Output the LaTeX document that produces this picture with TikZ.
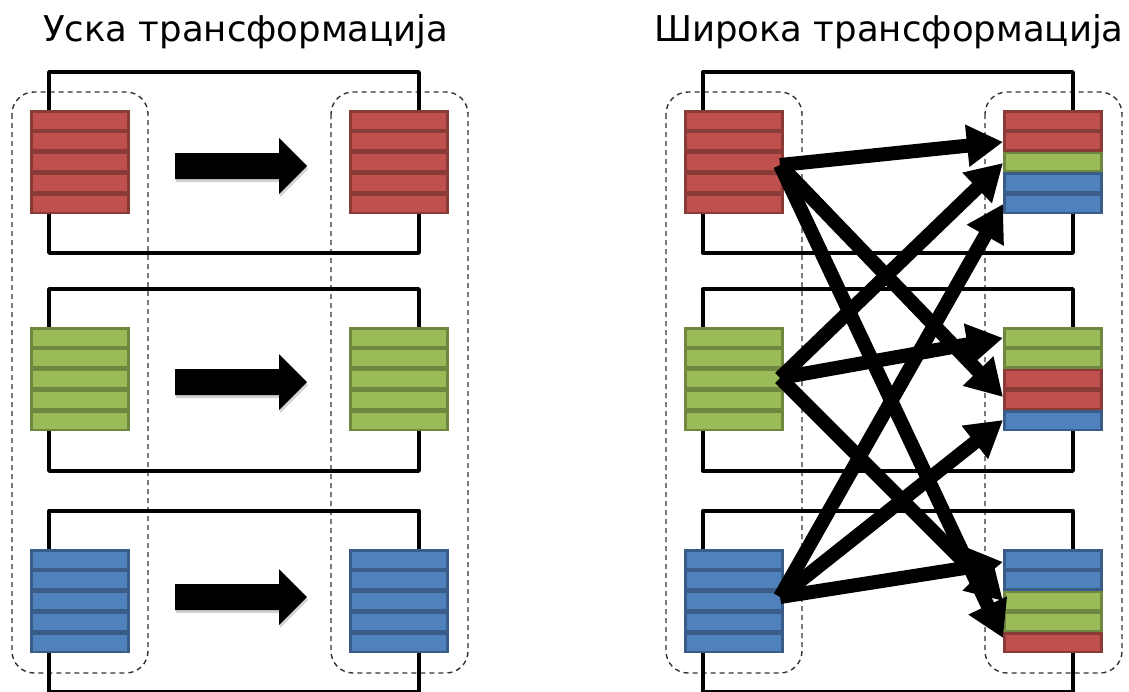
\documentclass[tikz,border=0pt]{standalone}
\usepackage{fontspec}
\setmainfont{DejaVu Sans}
\usetikzlibrary{calc,arrows.meta}

\definecolor{cR}{HTML}{C0504D}
\definecolor{cG}{HTML}{9BBB59}
\definecolor{cB}{HTML}{4F81BD}
\definecolor{dashgray}{HTML}{333333}

\tikzset{
  title/.style={font=\fontsize{35.5}{42}\selectfont, anchor=base west, inner sep=0pt},
  stackframe/.style={minimum width=100pt, minimum height=104pt, inner sep=0pt, outer sep=0pt},
  rowbox/.style={fill=#1, draw=#1!72!black, line width=2.6pt, line join=miter},
  partition/.style={draw=dashgray, line width=1.4pt, dash pattern=on 5pt off 4pt, rounded corners=22pt},
  stage/.style={draw=black, line width=3.4pt, line join=round},
  blockarrow/.style={fill=black},
  arrowshade/.style={fill=black, opacity=0.18},
  flow/.style={draw=black, line width=14pt, -{Triangle[length=36pt,width=40pt]}},
}

% a stack of five records: name, left x, top y, colours from top to bottom
\newcommand{\datastack}[4]{%
  \node[stackframe] (#1) at (#2+50, #3+52) {};
  \foreach \col [count=\i from 0] in {#4} {
    \draw[rowbox=\col] ($(#1.north west)+(1.3,1.3+\i*20.8)$) rectangle ++(97.4,18.6);
  }
}

% a wide block arrow with a soft shadow, starting at x and centred on y
\newcommand{\fatarrow}[2]{%
  \fill[arrowshade] (#1+1,#2-10) -- (#1+105,#2-10) -- (#1+105,#2-25) -- (#1+133,#2+3)
    -- (#1+105,#2+31) -- (#1+105,#2+16) -- (#1+1,#2+16) -- cycle;
  \fill[blockarrow] (#1,#2-13) -- (#1+104,#2-13) -- (#1+104,#2-28) -- (#1+132,#2)
    -- (#1+104,#2+28) -- (#1+104,#2+13) -- (#1,#2+13) -- cycle;
}

\begin{document}
\begin{tikzpicture}[x=1pt, y=-1pt]
\useasboundingbox (0,0) rectangle (1129,691);

% titles
\node[title] (t1) at (43,41) {Уска трансформација};
\node[title] (t2) at (654,41) {Широка трансформација};

% partitions (dashed) of both panels
\foreach \dx in {0,654} {
  \draw[partition] (12+\dx,92) rectangle (148+\dx,673);
  \draw[partition] (331+\dx,92) rectangle (468+\dx,673);
}

% stage frames
\foreach \dx in {0,654} {
  \draw[stage] (49+\dx,72) rectangle (419+\dx,253);
  \draw[stage] (49+\dx,289) rectangle (419+\dx,471);
  \draw[stage] (49+\dx,511) rectangle (419+\dx,692);
}

% narrow transformation
\datastack{nL1}{30}{110}{cR,cR,cR,cR,cR}
\datastack{nL2}{30}{327}{cG,cG,cG,cG,cG}
\datastack{nL3}{30}{549}{cB,cB,cB,cB,cB}
\datastack{nR1}{349}{110}{cR,cR,cR,cR,cR}
\datastack{nR2}{349}{327}{cG,cG,cG,cG,cG}
\datastack{nR3}{349}{549}{cB,cB,cB,cB,cB}
\fatarrow{175}{166}
\fatarrow{175}{382}
\fatarrow{175}{597}

% wide transformation
\datastack{wL1}{684}{110}{cR,cR,cR,cR,cR}
\datastack{wL2}{684}{327}{cG,cG,cG,cG,cG}
\datastack{wL3}{684}{549}{cB,cB,cB,cB,cB}
\datastack{wR1}{1003}{110}{cR,cR,cG,cB,cB}
\datastack{wR2}{1003}{327}{cG,cG,cR,cR,cB}
\datastack{wR3}{1003}{549}{cB,cB,cG,cG,cR}

\coordinate (sR) at ($(wL1.east)+(-4,3)$);
\coordinate (sG) at ($(wL2.east)+(-4,-1)$);
\coordinate (sB) at ($(wL3.east)+(-4,-4)$);

\draw[flow] (sR) -- ($(wR1.west)+(0,-20)$);
\draw[flow] (sR) -- ($(wR2.west)+(0,18)$);
\draw[flow] (sR) -- ($(wR3.west)+(0,37)$);
\draw[flow] (sG) -- ($(wR1.west)+(0,1)$);
\draw[flow] (sG) -- ($(wR2.west)+(0,-41)$);
\draw[flow] (sG) -- ($(wR3.west)+(0,0)$);
\draw[flow] (sB) -- ($(wR1.west)+(0,42)$);
\draw[flow] (sB) -- ($(wR2.west)+(0,41)$);
\draw[flow] (sB) -- ($(wR3.west)+(0,-39)$);
\end{tikzpicture}
\end{document}
